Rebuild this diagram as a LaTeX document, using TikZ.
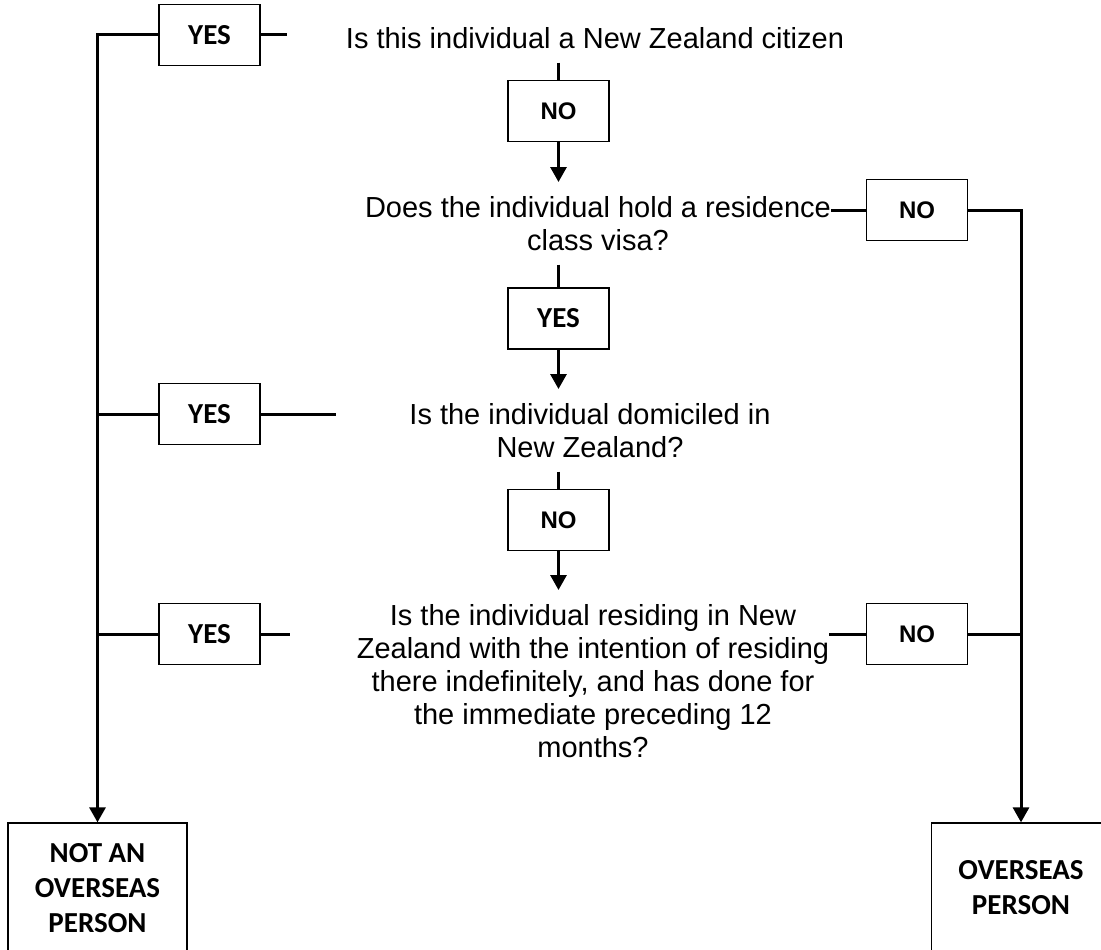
\documentclass[tikz,border=0pt]{standalone}
\usepackage{fontspec}
\setmainfont{Liberation Sans}
\newfontfamily\calibri{Carlito}
\usetikzlibrary{arrows.meta}

\begin{document}
\begin{tikzpicture}[x=1pt,y=-1pt,
        question/.style={align=center,inner xsep=0pt,inner ysep=14pt,anchor=north,font=\fontsize{29}{33}\selectfont},
        yesbox/.style={draw,line width=1.3pt,minimum width=101pt,minimum height=61pt,inner sep=0pt,font=\calibri\bfseries\fontsize{29}{35}\selectfont},
        nobox/.style={yesbox,font=\bfseries\fontsize{24}{28}\selectfont},
        endbox/.style={draw,line width=1.3pt,minimum width=179pt,minimum height=130pt,align=center,inner sep=0pt,font=\calibri\bfseries\fontsize{29}{35}\selectfont},
        link/.style={line width=3pt},
        >={Triangle[width=16pt,length=15pt]}]
        \useasboundingbox (0,0) rectangle (1101,950);
        % questions down the middle
        \node[question] (q1) at (595,13) {Is this individual a New Zealand citizen};
        \node[question] (q2) at (598,182) {Does the individual hold a residence\\class visa?};
        \node[question] (q3) at (590,389) {Is the individual domiciled in\\New Zealand?};
        \node[question] (q4) at (593,590) {Is the individual residing in New\\Zealand with the intention of residing\\there indefinitely, and has done for\\the immediate preceding 12\\months?};
        % answers
        \node[nobox] (no1) at (558.5,111) {NO};
        \node[yesbox] (yes2) at (558.5,318.5) {YES};
        \node[nobox] (no3) at (558.5,520) {NO};
        \node[yesbox] (yes1) at (209.5,35) {YES};
        \node[yesbox] (yes3) at (209.5,414) {YES};
        \node[yesbox] (yes4) at (209.5,634) {YES};
        \node[nobox] (no2) at (917,210) {NO};
        \node[nobox] (no4) at (917,634) {NO};
        % outcomes
        \node[endbox] (notover) at (97.5,888) {NOT AN\\OVERSEAS\\PERSON};
        \node[endbox] (over) at (1021,888) {OVERSEAS\\PERSON};
        \coordinate (yes1end) at (287,35);
        \coordinate (yes3end) at (336,414);
        \coordinate (yes4end) at (290,634);
        % the yes side
        \draw[link,->] (yes1.west) -| (notover.north);
        \draw[link] (yes1.east) -- (yes1end);
        \draw[link] (yes3.west) -- (yes3.west -| notover.north);
        \draw[link] (yes3.east) -- (yes3end);
        \draw[link] (yes4.west) -- (yes4.west -| notover.north);
        \draw[link] (yes4.east) -- (yes4end);
        % down the middle
        \draw[link] (no1.north |- q1.south) -- (no1);
        \draw[link,->] (no1) -- (no1.south |- q2.north);
        \draw[link] (yes2.north |- q2.south) -- (yes2);
        \draw[link,->] (yes2) -- (yes2.south |- q3.north);
        \draw[link] (no3.north |- q3.south) -- (no3);
        \draw[link,->] (no3) -- (no3.south |- q4.north);
        % the no side
        \draw[link] (no2.west -| q2.east) -- (no2);
        \draw[link,->] (no2.east) -| (over.north);
        \draw[link] (no4.west -| q4.east) -- (no4);
        \draw[link] (no4.east) -- (no4.east -| over.north);
    \end{tikzpicture}
\end{document}
